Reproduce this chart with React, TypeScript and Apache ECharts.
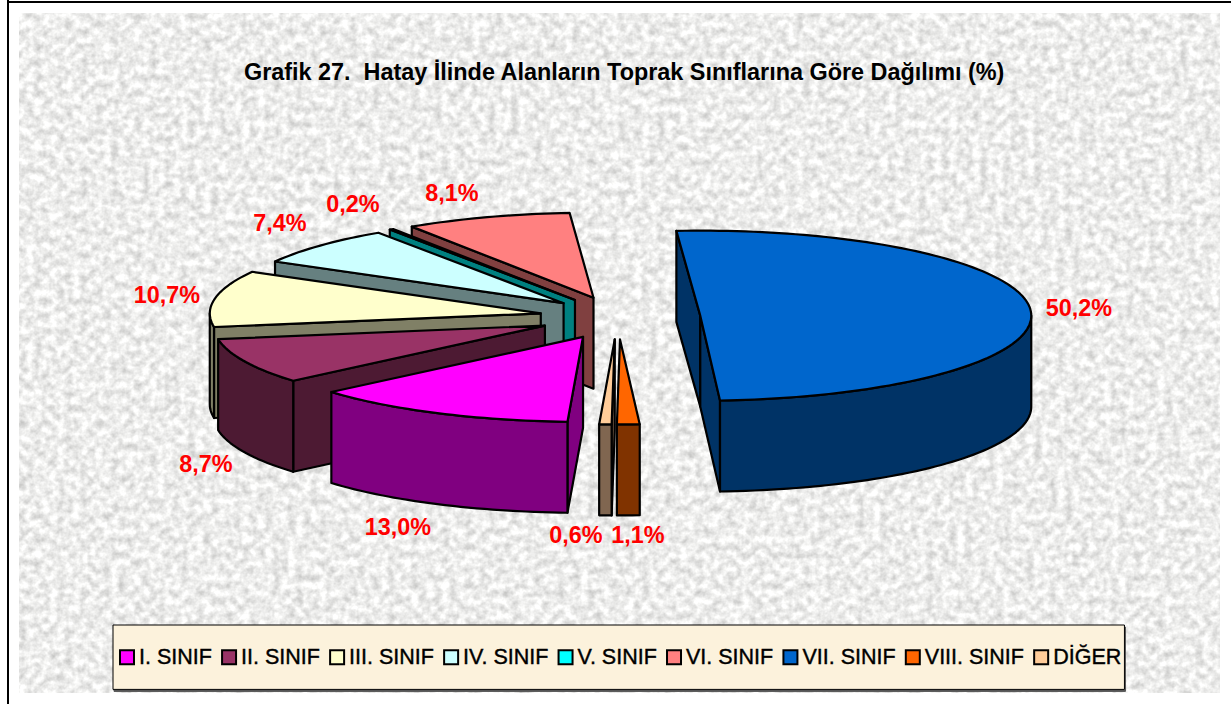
import React, { useEffect, useRef } from "react";
import * as echarts from "echarts";

const categories = ["I. SINIF", "II. SINIF", "III. SINIF", "IV. SINIF", "V. SINIF", "VI. SINIF", "VII. SINIF", "VIII. SINIF", "DİĞER"];
const values = [13.0, 8.7, 10.7, 7.4, 0.2, 8.1, 50.2, 1.1, 0.6];
const topColors = ["#FF00FF", "#993366", "#FFFFCC", "#CCFFFF", "#00FFFF", "#FF8080", "#0066CC", "#FF6600", "#FFCC99"];
const sideColors = ["#800080", "#4D1A33", "#808066", "#668080", "#008080", "#804040", "#003366", "#803300", "#806650"];
const labelCenters = [[398, 527], [206, 464], [167, 295], [280, 223], [353, 204], [452, 193], [1079, 308], [638, 535], [576, 535]];
const nudgeX = [-1, -2, 0, 3, 0, 0, 2, -1, -2];
const nudgeY = [1.5, 0, 0, 0, 0, 0, 0, 2, 2];
const drawOrder = [6, 5, 4, 3, 2, 1, 8, 7, 0];
const titleText = "Grafik 27.  Hatay İlinde Alanların Toprak Sınıflarına Göre Dağılımı (%)";

const firstAngle = 182.7;
const cx = 619, cy = 317, rx = 331, ry = 85, depth = 91, explosion = 0.24;
const rad = (d: number) => (d * Math.PI) / 180;
const noise = "<svg xmlns='http://www.w3.org/2000/svg' width='1201' height='680'><filter id='n' x='0' y='0' width='100%' height='100%' color-interpolation-filters='sRGB'><feTurbulence type='fractalNoise' baseFrequency='0.13' numOctaves='3' seed='11'/><feColorMatrix type='matrix' values='0.36 0 0 0 0.75 0.36 0 0 0 0.75 0.36 0 0 0 0.745 0 0 0 0 1'/></filter><rect width='100%' height='100%' filter='url(#n)'/></svg>";

function sliceChildren(i: number) {
  const startSum = values.slice(0, i).reduce((a, b) => a + b, 0);
  const a0 = firstAngle + startSum * 3.6;
  const a1 = a0 + values[i] * 3.6;
  const mid = rad((a0 + a1) / 2);
  const tx = cx + nudgeX[i] + explosion * rx * Math.sin(mid);
  const ty = cy + nudgeY[i] - explosion * ry * Math.cos(mid);
  const rim = (deg: number, dz = 0) => [tx + rx * Math.sin(rad(deg)), ty - ry * Math.cos(rad(deg)) + dz];
  const arc = (from: number, to: number, dz = 0) => {
    const n = Math.max(2, Math.ceil(Math.abs(to - from) / 1.5));
    const out: number[][] = [];
    for (let k = 0; k <= n; k++) out.push(rim(from + ((to - from) * k) / n, dz));
    return out;
  };
  const edge = { stroke: "#000", lineWidth: 2.2, lineJoin: "round" };
  const poly = (points: number[][], fill: string) => ({ type: "polygon", shape: { points }, style: { fill, ...edge } });
  const kids: any[] = [];
  const side = sideColors[i];
  if (Math.sin(rad(a0)) < 0) {
    kids.push(poly([rim(a0), [tx, ty], [tx, ty + depth], rim(a0, depth)], side));
  }
  if (Math.sin(rad(a1)) > 0) {
    kids.push(poly([rim(a1), [tx, ty], [tx, ty + depth], rim(a1, depth)], side));
  }
  for (const k of [0, 360]) {
    const lo = Math.max(a0, 90 + k);
    const hi = Math.min(a1, 270 + k);
    if (hi > lo) kids.push(poly([...arc(lo, hi), ...arc(hi, lo, depth)], side));
  }
  kids.push(poly([[tx, ty], ...arc(a0, a1)], topColors[i]));
  kids.push({
    type: "text",
    z2: 50,
    style: {
      x: labelCenters[i][0],
      y: labelCenters[i][1],
      text: values[i].toFixed(1).replace(".", ",") + "%",
      fill: "#FF0000",
      font: "bold 23.4px 'Liberation Sans'",
      align: "center",
      verticalAlign: "middle",
    },
  });
  return kids;
}

export default function App() {
  const ref = useRef<HTMLDivElement>(null);
  useEffect(() => {
    document.body.style.margin = "0";
    const chart = echarts.init(ref.current!, undefined, { renderer: "svg" });
    chart.setOption({
      animation: false,
      backgroundColor: "transparent",
      title: {
        text: titleText,
        left: 244,
        top: 60,
        padding: 0,
        textStyle: { fontFamily: "Liberation Sans", fontSize: 23.4, fontWeight: "bold", color: "#000" },
      },
      legend: {
        data: categories,
        left: 113,
        top: 625,
        orient: "horizontal",
        icon: "rect",
        itemWidth: 14,
        itemHeight: 14,
        itemGap: 9,
        padding: [21, 3, 21, 6],
        backgroundColor: "#FCF2DC",
        borderColor: "#000",
        borderWidth: 1,
        shadowColor: "#555",
        shadowOffsetX: 1,
        shadowOffsetY: 2,
        shadowBlur: 0,
        itemStyle: { borderColor: "#000", borderWidth: 2 },
        textStyle: { fontFamily: "Liberation Sans", fontSize: 21.5, color: "#000", textBorderColor: "#000", textBorderWidth: 0.4 },
      },
      series: drawOrder.map((i) => ({
        type: "custom",
        name: categories[i],
        coordinateSystem: "none",
        silent: true,
        itemStyle: { color: topColors[i] },
        data: [[values[i]]],
        renderItem: () => ({ type: "group", children: sliceChildren(i) }),
      })),
    });
    return () => chart.dispose();
  }, []);
  return (
    <div style={{ position: "fixed", left: 0, top: 0, width: 1231, height: 704, background: "#fff", overflow: "hidden" }}>
      <div style={{ position: "absolute", left: 7, top: 0, width: 2, height: 704, background: "#000" }} />
      <div style={{ position: "absolute", left: 7, top: 1, width: 1224, height: 2, background: "#000" }} />
      <div style={{ position: "absolute", left: 19, top: 13, width: 1201, height: 680, backgroundImage: `url("data:image/svg+xml,${encodeURIComponent(noise)}")` }} />
      <div ref={ref} style={{ position: "absolute", left: 0, top: 0, width: 1231, height: 704 }} />
    </div>
  );
}
